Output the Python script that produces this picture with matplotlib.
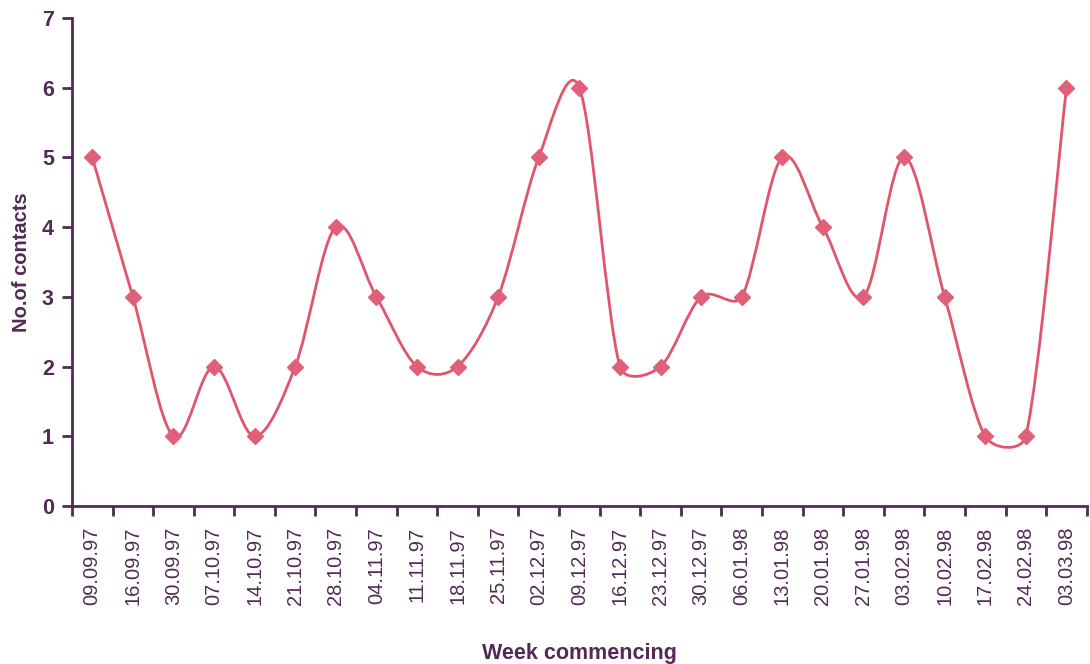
import matplotlib.pyplot as plt
from matplotlib.path import Path
from matplotlib.patches import PathPatch
import numpy as np

weeks = ['09.09.97', '16.09.97', '30.09.97', '07.10.97', '14.10.97', '21.10.97',
         '28.10.97', '04.11.97', '11.11.97', '18.11.97', '25.11.97', '02.12.97',
         '09.12.97', '16.12.97', '23.12.97', '30.12.97', '06.01.98', '13.01.98',
         '20.01.98', '27.01.98', '03.02.98', '10.02.98', '17.02.98', '24.02.98',
         '03.03.98']
contacts = [5, 3, 1, 2, 1, 2, 4, 3, 2, 2, 3, 5, 6, 2, 2, 3, 3, 5, 4, 3, 5, 3, 1, 1, 6]

text_col = '#522a55'
line_col = '#e2546c'

plt.rcParams['font.family'] = ['Liberation Sans', 'DejaVu Sans']

fig = plt.figure(figsize=(10.9, 6.64), dpi=100)
ax = fig.add_axes([0.066, 0.238, 0.931, 0.735])

x = np.arange(len(contacts), dtype=float)
y = np.array(contacts, dtype=float)
n = len(x)

# smoothed line: catmull-rom bezier, with each handle capped to a fraction
# of the neighbouring segment length (in screen proportions)
scale = np.array([40.6, 69.7])
pts = np.column_stack([x, y])
seg = np.hypot(*(np.diff(pts, axis=0) * scale).T)
cap = 0.4


def handle(v, length):
    h = np.hypot(*(v * scale))
    if h > cap * length:
        v = v * cap * length / h
    return v


out_ctrl = np.zeros_like(pts)
in_ctrl = np.zeros_like(pts)
for i in range(n):
    v = (pts[min(i + 1, n - 1)] - pts[max(i - 1, 0)]) / 6.0
    if i < n - 1:
        out_ctrl[i] = pts[i] + handle(v, seg[i])
    if i > 0:
        in_ctrl[i] = pts[i] - handle(v, seg[i - 1])

verts = [tuple(pts[0])]
codes = [Path.MOVETO]
for i in range(n - 1):
    verts += [tuple(out_ctrl[i]), tuple(in_ctrl[i + 1]), tuple(pts[i + 1])]
    codes += [Path.CURVE4] * 3
ax.add_patch(PathPatch(Path(verts, codes), facecolor='none', edgecolor=line_col, lw=2.0, zorder=2))

ax.plot(x, y, linestyle='none', marker='D', markersize=8.5, color='#e0607a',
        markeredgecolor='#e0607a', zorder=3)

ax.set_xlim(-0.5, n - 0.5)
ax.set_ylim(0, 7)
ax.set_yticks(range(0, 8))
ax.set_yticklabels([str(v) for v in range(0, 8)], fontsize=15.5, fontweight='bold', color=text_col)
ax.set_xticks(x)
ax.set_xticklabels(weeks, rotation=90, fontsize=14.5, color=text_col)
ax.set_xticks(np.arange(-0.5, n, 1.0), minor=True)
ax.tick_params(axis='x', which='major', length=0, pad=15)
ax.tick_params(axis='x', which='minor', length=7, width=2, color=text_col, direction='out')
ax.tick_params(axis='y', length=7, width=2, color=text_col, direction='out', pad=6)

for side in ['top', 'right']:
    ax.spines[side].set_visible(False)
for side in ['left', 'bottom']:
    ax.spines[side].set_color(text_col)
    ax.spines[side].set_linewidth(2)

ax.set_ylabel('No.of contacts', fontsize=14.5, fontweight='bold', color=text_col, labelpad=8)
fig.text(0.532, 0.008, 'Week commencing', fontsize=15.5, fontweight='bold', color=text_col, ha='center')

fig.savefig('out.png', dpi=100)
